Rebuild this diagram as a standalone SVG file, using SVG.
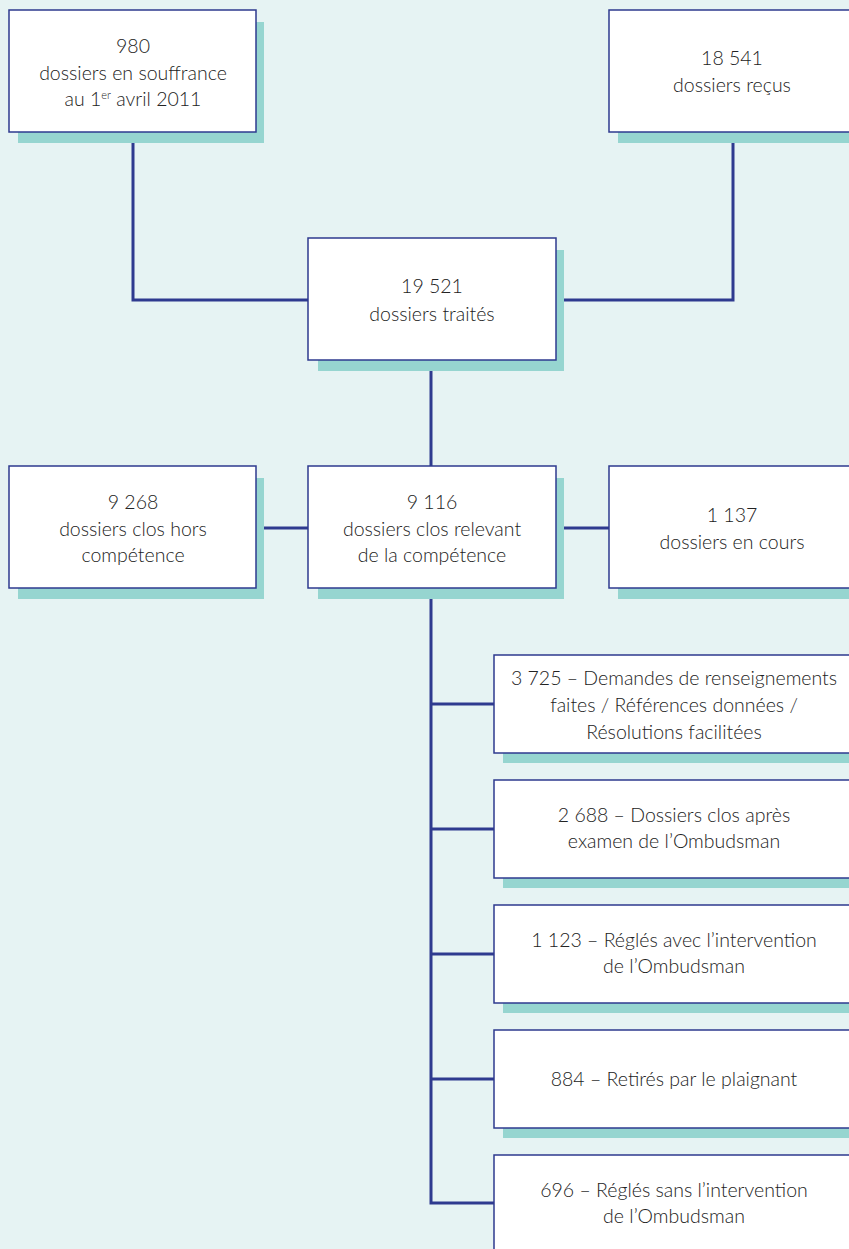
<svg xmlns="http://www.w3.org/2000/svg" width="849" height="1249" viewBox="0 0 849 1249">
<style>
.bg{fill:#e6f3f3}
.sh{fill:#96d5d0}
.bx{fill:#ffffff;stroke:#2e3a8f;stroke-width:1.5}
.t{font-family:Lato,"Open Sans","Liberation Sans",sans-serif;font-size:19.5px;font-weight:300;fill:#222222;text-anchor:middle}
.c{fill:none;stroke:#2e3a8f;stroke-width:3}
</style>
<rect class="bg" x="0" y="0" width="849" height="1249"/>
<g id="connectors">
<polyline class="c" points="133,132 133,300 308,300"/>
<polyline class="c" points="733,132 733,300 556,300"/>
<line class="c" x1="431" y1="360" x2="431" y2="466"/>
<line class="c" x1="256" y1="528" x2="308" y2="528"/>
<line class="c" x1="556" y1="528" x2="609" y2="528"/>
<polyline class="c" points="431,588 431,1203 494,1203"/>
<line class="c" x1="431" y1="704" x2="494" y2="704"/>
<line class="c" x1="431" y1="829" x2="494" y2="829"/>
<line class="c" x1="431" y1="954" x2="494" y2="954"/>
<line class="c" x1="431" y1="1079" x2="494" y2="1079"/>
</g>
<g id="n980">
<rect class="sh" x="18" y="22" width="246" height="121"/>
<rect class="bx" x="9" y="10" width="247" height="122"/>
<text class="t" x="133" y="53">980</text>
<text class="t" x="133" y="79.5">dossiers en souffrance</text>
<text class="t" x="133" y="106">au 1<tspan font-size="11" dy="-7">er</tspan><tspan dy="7"> avril 2011</tspan></text>
</g>
<g id="n18541">
<rect class="sh" x="618" y="22" width="246" height="121"/>
<rect class="bx" x="609" y="10" width="248" height="122"/>
<text class="t" x="732" y="65">18 541</text>
<text class="t" x="732" y="92">dossiers reçus</text>
</g>
<g id="n19521">
<rect class="sh" x="318" y="250" width="246" height="121"/>
<rect class="bx" x="308" y="238" width="248" height="122"/>
<text class="t" x="432" y="293">19 521</text>
<text class="t" x="432" y="320.5">dossiers traités</text>
</g>
<g id="n9268">
<rect class="sh" x="18" y="478" width="246" height="121"/>
<rect class="bx" x="9" y="466" width="247" height="122"/>
<text class="t" x="133" y="509">9 268</text>
<text class="t" x="133" y="535.5">dossiers clos hors</text>
<text class="t" x="133" y="562">compétence</text>
</g>
<g id="n9116">
<rect class="sh" x="318" y="478" width="246" height="121"/>
<rect class="bx" x="308" y="466" width="248" height="122"/>
<text class="t" x="432" y="509">9 116</text>
<text class="t" x="432" y="535.5">dossiers clos relevant</text>
<text class="t" x="432" y="562">de la compétence</text>
</g>
<g id="n1137">
<rect class="sh" x="618" y="478" width="246" height="121"/>
<rect class="bx" x="609" y="466" width="248" height="122"/>
<text class="t" x="732" y="522">1 137</text>
<text class="t" x="732" y="548.5">dossiers en cours</text>
</g>
<g id="n3725">
<rect class="sh" x="503" y="665" width="360" height="98"/>
<rect class="bx" x="494" y="655" width="360" height="98"/>
<text class="t" x="674" y="685">3 725 – Demandes de renseignements</text>
<text class="t" x="674" y="712">faites / Références données /</text>
<text class="t" x="674" y="739">Résolutions facilitées</text>
</g>
<g id="n2688">
<rect class="sh" x="503" y="790" width="360" height="98"/>
<rect class="bx" x="494" y="780" width="360" height="98"/>
<text class="t" x="674" y="822">2 688 – Dossiers clos après</text>
<text class="t" x="674" y="848">examen de l’Ombudsman</text>
</g>
<g id="n1123">
<rect class="sh" x="503" y="915" width="360" height="98"/>
<rect class="bx" x="494" y="905" width="360" height="98"/>
<text class="t" x="674" y="947">1 123 – Réglés avec l’intervention</text>
<text class="t" x="674" y="973">de l’Ombudsman</text>
</g>
<g id="n884">
<rect class="sh" x="503" y="1040" width="360" height="98"/>
<rect class="bx" x="494" y="1030" width="360" height="98"/>
<text class="t" x="674" y="1086">884 – Retirés par le plaignant</text>
</g>
<g id="n696">
<rect class="sh" x="503" y="1165" width="360" height="98"/>
<rect class="bx" x="494" y="1155" width="360" height="98"/>
<text class="t" x="674" y="1197">696 – Réglés sans l’intervention</text>
<text class="t" x="674" y="1223">de l’Ombudsman</text>
</g>
</svg>
